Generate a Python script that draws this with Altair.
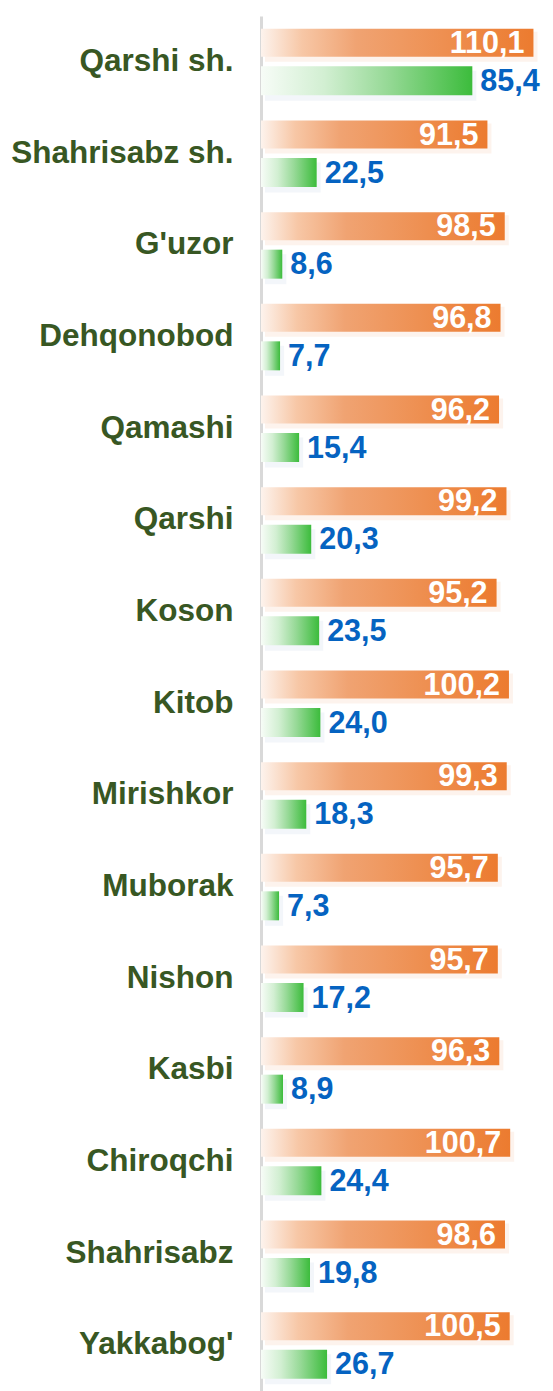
import altair as alt
import pandas as pd

categories = ["Qarshi sh.", "Shahrisabz sh.", "G'uzor", "Dehqonobod", "Qamashi", "Qarshi",
              "Koson", "Kitob", "Mirishkor", "Muborak", "Nishon", "Kasbi", "Chiroqchi",
              "Shahrisabz", "Yakkabog'"]
orange_values = [110.1, 91.5, 98.5, 96.8, 96.2, 99.2, 95.2, 100.2, 99.3, 95.7, 95.7, 96.3, 100.7, 98.6, 100.5]
green_values = [85.4, 22.5, 8.6, 7.7, 15.4, 20.3, 23.5, 24.0, 18.3, 7.3, 17.2, 8.9, 24.4, 19.8, 26.7]


def fmt(v):
    return f"{v:.1f}".replace(".", ",")


df = pd.DataFrame({
    "cat": categories,
    "orange": orange_values,
    "green": green_values,
    "orange_lbl": [fmt(v) for v in orange_values],
    "green_lbl": [fmt(v) for v in green_values],
})

FONT = "Liberation Sans"

orange_grad = alt.LinearGradient(
    gradient="linear", x1=0, x2=1, y1=0, y2=0,
    stops=[
        alt.GradientStop(offset=0, color="#fdf3ed"),
        alt.GradientStop(offset=0.15, color="#f7c7a6"),
        alt.GradientStop(offset=0.35, color="#f0a372"),
        alt.GradientStop(offset=1, color="#ec7b2f"),
    ],
)
green_grad = alt.LinearGradient(
    gradient="linear", x1=0, x2=1, y1=0, y2=0,
    stops=[
        alt.GradientStop(offset=0, color="#f7fcf7"),
        alt.GradientStop(offset=0.3, color="#d2efd2"),
        alt.GradientStop(offset=0.6, color="#96d996"),
        alt.GradientStop(offset=1, color="#3cbc3c"),
    ],
)

y_enc = alt.Y(
    "cat:N", sort=categories, title=None,
    scale=alt.Scale(paddingInner=0, paddingOuter=0),
    axis=alt.Axis(
        ticks=False, domain=True, domainColor="#d9d9d9", domainWidth=3,
        labelFont=FONT, labelFontWeight="bold", labelFontSize=31.5,
        labelColor="#385723", labelPadding=28, labelLimit=400, grid=False,
    ),
)
xscale = alt.Scale(domain=[0, 118], nice=False, zero=True)

base = alt.Chart(df)

orange_shadow = base.mark_bar(height=30, yOffset=-15, xOffset=4, color="#fce8db", opacity=0.5).encode(
    y=y_enc, x=alt.X("orange:Q", scale=xscale, axis=None))
green_shadow = base.mark_bar(height=30, yOffset=24, xOffset=4, color="#e8edf6", opacity=0.5).encode(
    y=y_enc, x=alt.X("green:Q", scale=xscale, axis=None))

orange_bar = base.mark_bar(height=28, yOffset=-19, color=orange_grad).encode(
    y=y_enc, x=alt.X("orange:Q", scale=xscale, axis=None))
green_bar = base.mark_bar(height=29, yOffset=19, color=green_grad).encode(
    y=y_enc, x=alt.X("green:Q", scale=xscale, axis=None))

orange_text = base.mark_text(
    align="right", baseline="middle", dx=-9, yOffset=-18, font=FONT, fontWeight="bold",
    fontSize=30.5, color="#ffffff").encode(
    y=y_enc, x=alt.X("orange:Q", scale=xscale, axis=None), text="orange_lbl:N")
green_text = base.mark_text(
    align="left", baseline="middle", dx=8, yOffset=20, font=FONT, fontWeight="bold",
    fontSize=30.5, color="#0563c1").encode(
    y=y_enc, x=alt.X("green:Q", scale=xscale, axis=None), text="green_lbl:N")

chart = alt.layer(orange_shadow, green_shadow, orange_bar, green_bar, orange_text, green_text).properties(
    width=292, height=1375,
    autosize=alt.AutoSizeParams(type="none"),
    padding={"left": 261, "top": 16, "right": 0, "bottom": 0},
    background="#ffffff",
).configure_view(strokeWidth=0)

chart.save("out.html", embed_options={"renderer": "svg", "actions": False})
